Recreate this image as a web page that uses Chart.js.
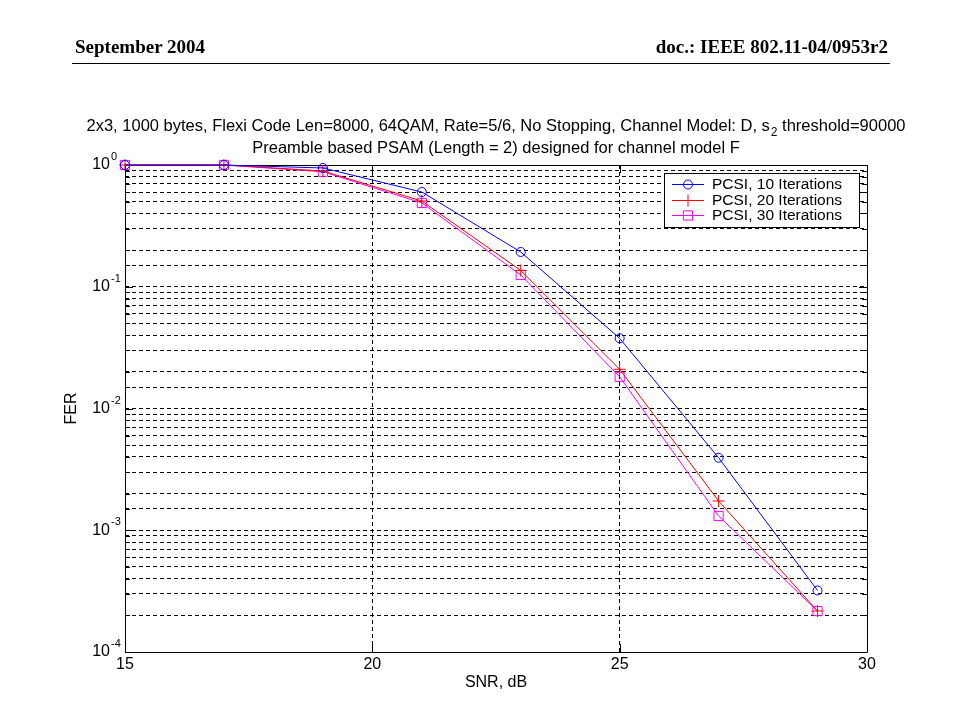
<!DOCTYPE html>
<html>
<head>
<meta charset="utf-8">
<script src="https://cdn.jsdelivr.net/npm/chart.js@4.4.1/dist/chart.umd.min.js"></script>
<style>
  html, body { margin: 0; padding: 0; background: #fff; }
  #wrap { position: relative; width: 960px; height: 720px; overflow: hidden; }
  #c { position: absolute; left: 0; top: 0; }
  .hdr { position: absolute; font-family: "Liberation Serif", "Times New Roman", serif; font-weight: bold; font-size: 19px; color: #000; line-height: 20px; }
  #hl { left: 75px; top: 37px; }
  #hr { right: 72px; top: 37px; }
  #rule { position: absolute; left: 72px; width: 818px; top: 63px; height: 0; border-top: 1.5px solid #000; }
</style>
</head>
<body>
<div id="wrap">
  <canvas id="c" width="960" height="720"></canvas>
  <div class="hdr" id="hl">September 2004</div>
  <div class="hdr" id="hr">doc.: IEEE 802.11-04/0953r2</div>
  <div id="rule"></div>
</div>
<script>
// ---- data ----
const snr = [15, 17, 19, 21, 23, 25, 27, 29];
const fer10 = [1.0, 1.0, 0.945, 0.60, 0.193, 0.0377, 0.00394, 0.00032];
const fer20 = [1.0, 1.0, 0.893, 0.506, 0.136, 0.021, 0.00174, 0.000217];
const fer30 = [1.0, 1.0, 0.88, 0.488, 0.125, 0.0182, 0.00131, 0.000217];
const seriesLabels = ['PCSI, 10 Iterations', 'PCSI, 20 Iterations', 'PCSI, 30 Iterations'];
const xTicks = [15, 20, 25, 30];
const yDecades = [1, 0.1, 0.01, 0.001, 0.0001];
const yExponents = ['0', '-1', '-2', '-3', '-4'];
const titleLine1a = '2x3, 1000 bytes, Flexi Code Len=8000, 64QAM, Rate=5/6, No Stopping, Channel Model: D, s';
const titleLine1sub = '2';
const titleLine1b = ' threshold=90000';
const titleLine2 = 'Preamble based PSAM (Length = 2) designed for channel model F';
const xTitle = 'SNR, dB';
const yTitle = 'FER';

const FONT = '"Liberation Sans", Arial, sans-serif';
const colors = ['#0000ff', '#ff0000', '#ff00ff'];
const styles = ['circle', 'cross', 'rect'];
const radii = [4.5, 6, 6.5];

function pts(ys) { return snr.map((x, i) => ({x: x, y: ys[i]})); }

const datasets = [fer10, fer20, fer30].map((ys, i) => ({
  label: seriesLabels[i],
  data: pts(ys),
  borderColor: colors[i],
  borderWidth: 1,
  pointStyle: styles[i],
  pointRadius: radii[i],
  pointBorderColor: colors[i],
  pointBackgroundColor: 'rgba(0,0,0,0)',
  pointBorderWidth: 1,
  tension: 0,
  fill: false,
  clip: false
}));

function drawMarker(ctx, style, x, y, r, color) {
  ctx.save();
  ctx.strokeStyle = color;
  ctx.lineWidth = 1;
  ctx.beginPath();
  if (style === 'circle') {
    ctx.arc(x, y, r, 0, Math.PI * 2);
  } else if (style === 'cross') {
    ctx.moveTo(x - r, y); ctx.lineTo(x + r, y);
    ctx.moveTo(x, y - r); ctx.lineTo(x, y + r);
  } else if (style === 'rect') {
    const s = r * Math.SQRT1_2;
    ctx.rect(x - s, y - s, 2 * s, 2 * s);
  }
  ctx.stroke();
  ctx.restore();
}

const framePlugin = {
  id: 'frame',
  beforeDatasetsDraw(chart) {
    const {ctx, chartArea: a, scales} = chart;
    ctx.save();
    ctx.strokeStyle = '#000';
    ctx.lineWidth = 1;
    ctx.beginPath();
    ctx.rect(Math.round(a.left) + 0.5, Math.round(a.top) + 0.5, Math.round(a.right - a.left), Math.round(a.bottom - a.top));
    ctx.stroke();
    ctx.beginPath();
    scales.y.ticks.forEach(t => {
      const py = Math.round(scales.y.getPixelForValue(t.value)) + 0.5;
      const major = yDecades.some(d => Math.abs(Math.log10(d) - Math.log10(t.value)) < 1e-6);
      const len = major ? 8 : 5;
      ctx.moveTo(a.right, py); ctx.lineTo(a.right - len, py);
      ctx.moveTo(a.left, py); ctx.lineTo(a.left + len, py);
    });
    xTicks.forEach(v => {
      const px = Math.round(scales.x.getPixelForValue(v)) + 0.5;
      ctx.moveTo(px, a.bottom); ctx.lineTo(px, a.bottom - 8);
      ctx.moveTo(px, a.top); ctx.lineTo(px, a.top + 8);
    });
    ctx.stroke();
    ctx.restore();
  },
  afterDraw(chart) {
    const {ctx, chartArea: a, scales} = chart;
    ctx.save();
    ctx.fillStyle = '#000';
    const cx = (a.left + a.right) / 2;
    // titles
    const mainFont = '16.5px ' + FONT;
    const subFont = '12px ' + FONT;
    ctx.font = mainFont;
    ctx.textBaseline = 'alphabetic';
    const wA = ctx.measureText(titleLine1a).width;
    const wB = ctx.measureText(titleLine1b).width;
    ctx.font = subFont;
    const wS = ctx.measureText(titleLine1sub).width;
    const total = wA + wS + wB + 1;
    let tx = cx - total / 2;
    const ty1 = 131;
    ctx.font = mainFont;
    ctx.textAlign = 'left';
    ctx.fillText(titleLine1a, tx, ty1);
    ctx.font = subFont;
    ctx.fillText(titleLine1sub, tx + wA + 1, ty1 + 5);
    ctx.font = mainFont;
    ctx.fillText(titleLine1b, tx + wA + wS + 1, ty1);
    ctx.textAlign = 'center';
    ctx.fillText(titleLine2, cx, 153);

    // x tick labels
    ctx.font = '16px ' + FONT;
    ctx.textAlign = 'center';
    ctx.textBaseline = 'top';
    xTicks.forEach(v => {
      ctx.fillText(String(v), scales.x.getPixelForValue(v), a.bottom + 5);
    });
    // x title
    ctx.fillText(xTitle, cx, a.bottom + 23);

    // y tick labels 10^n
    yDecades.forEach((v, i) => {
      const py = scales.y.getPixelForValue(v);
      ctx.font = '16px ' + FONT;
      ctx.textAlign = 'right';
      ctx.textBaseline = 'middle';
      const baseX = a.left - 15;
      ctx.fillText('10', baseX, py);
      ctx.font = '11px ' + FONT;
      ctx.textAlign = 'left';
      ctx.textBaseline = 'alphabetic';
      ctx.fillText(yExponents[i], baseX + 1, py - 5);
    });
    // y title
    ctx.save();
    ctx.translate(a.left - 53, (a.top + a.bottom) / 2);
    ctx.rotate(-Math.PI / 2);
    ctx.font = '16px ' + FONT;
    ctx.textAlign = 'center';
    ctx.textBaseline = 'middle';
    ctx.fillText(yTitle, 0, 0);
    ctx.restore();

    // legend box
    const lx = a.right - 203, ly = a.top + 8, lw = 195, lh = 54;
    ctx.fillStyle = '#fff';
    ctx.fillRect(lx, ly, lw, lh);
    ctx.strokeStyle = '#000';
    ctx.lineWidth = 1;
    ctx.strokeRect(Math.round(lx) + 0.5, Math.round(ly) + 0.5, lw, lh);
    ctx.font = '15.5px ' + FONT;
    ctx.textAlign = 'left';
    ctx.textBaseline = 'middle';
    chart.data.datasets.forEach((ds, i) => {
      const ry = ly + 11 + i * 15.5;
      ctx.strokeStyle = ds.borderColor;
      ctx.beginPath();
      ctx.moveTo(lx + 8, Math.round(ry) + 0.5);
      ctx.lineTo(lx + 40, Math.round(ry) + 0.5);
      ctx.stroke();
      drawMarker(ctx, ds.pointStyle, lx + 24, Math.round(ry) + 0.5, ds.pointRadius, ds.borderColor);
      ctx.fillStyle = '#000';
      ctx.fillText(ds.label, lx + 48, ry + 1);
    });
    ctx.restore();
  }
};

new Chart(document.getElementById('c'), {
  type: 'line',
  data: { datasets: datasets },
  options: {
    responsive: false,
    animation: false,
    devicePixelRatio: 1,
    layout: { padding: { left: 125, top: 165, right: 93, bottom: 68 } },
    plugins: { legend: { display: false }, tooltip: { enabled: false }, title: { display: false } },
    scales: {
      x: {
        type: 'linear', min: 15, max: 30,
        ticks: { display: false, stepSize: 5, autoSkip: false },
        grid: { color: '#000', lineWidth: 1, drawTicks: false },
        border: { display: false, dash: [4, 3] }
      },
      y: {
        type: 'logarithmic', min: 0.0001, max: 1,
        ticks: { display: false, autoSkip: false },
        grid: { color: '#000', lineWidth: 1, drawTicks: false },
        border: { display: false, dash: [4, 3] }
      }
    }
  },
  plugins: [framePlugin]
});
</script>
</body>
</html>
